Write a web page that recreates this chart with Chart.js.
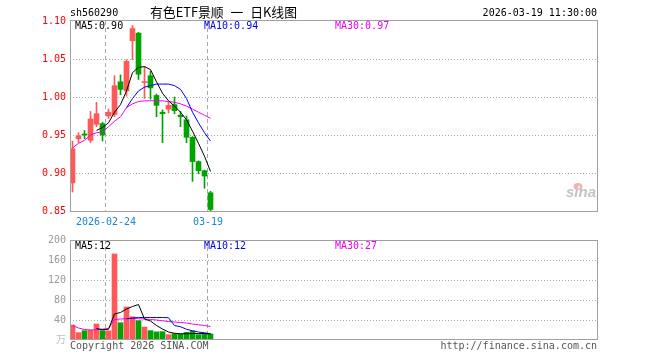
<!DOCTYPE html>
<html lang="zh-CN">
<head>
<meta charset="UTF-8">
<title>有色ETF景顺 日K线图</title>
<script src="https://cdn.jsdelivr.net/npm/chart.js@4"></script>
<style>
  html, body { margin: 0; padding: 0; background: #fff; }
  #wrap { position: relative; width: 660px; height: 360px; }
  #wrap canvas { position: absolute; left: 0; top: 0; }
</style>
</head>
<body>
<div id="wrap">
  <canvas id="kline" width="660" height="360"></canvas>
  <canvas id="vol" width="660" height="360"></canvas>
</div>
<script>
// daily bars, oldest first
const open  = [0.887,0.945,0.951,0.943,0.964,0.965,0.975,0.977,1.020,1.008,1.074,1.084,1.019,1.028,1.002,0.980,0.984,0.990,0.976,0.970,0.947,0.915,0.903,0.874];
const close = [0.932,0.949,0.950,0.971,0.978,0.950,0.980,1.015,1.010,1.047,1.090,1.030,1.020,1.012,0.989,0.978,0.989,0.982,0.974,0.947,0.915,0.903,0.896,0.852];
const high  = [0.942,0.953,0.956,0.981,0.993,0.967,0.984,1.028,1.029,1.049,1.094,1.085,1.040,1.034,1.004,0.983,0.993,1.000,0.981,0.975,0.948,0.916,0.904,0.876];
const low   = [0.875,0.940,0.945,0.940,0.961,0.942,0.972,0.974,1.003,1.001,1.049,1.023,0.998,0.997,0.974,0.940,0.979,0.978,0.961,0.940,0.889,0.899,0.880,0.850];

const ma5  = [null,null,null,null,0.956,0.960,0.966,0.980,0.990,1.008,1.032,1.039,1.040,1.036,1.020,1.005,0.995,0.988,0.980,0.970,0.955,0.939,0.922,0.902];
const ma10 = [null,null,null,null,null,null,null,null,null,0.986,0.998,1.008,1.013,1.015,1.017,1.017,1.017,1.015,1.010,0.998,0.980,0.966,0.953,0.942];
const ma30 = [0.933,0.939,0.943,0.950,0.953,0.954,0.961,0.968,0.974,0.986,0.991,0.994,0.995,0.995,0.995,0.995,0.994,0.993,0.991,0.988,0.984,0.980,0.976,0.972];

// volume, 万
const vol     = [30,14.7,18.7,19.5,32,18.7,18.5,172,34.5,66,46.5,38.7,26,18.7,16.3,16.7,10.7,12.7,12,15.3,18,10.7,13.3,12];
const volMa5  = [null,null,null,null,23,20.5,21.5,52,55,62,67,71,42,38,29,22,16,13.5,12.5,12.5,13,13,13,12.4];
const volMa10 = [null,null,null,null,null,null,null,null,null,42.5,44,45,45,45,45,45,44.5,29,26.5,21.5,18.5,16,14.5,12.4];
const volMa30 = [29,24,21,20,20.5,22,23,41,42,42.5,43,42.5,42,41,40,38.5,37,36,35,34,32,30.5,29,27];

const dateIdx    = [6, 23];
const dateLabels = ['2026-02-24', '03-19'];
const priceTicks = [0.85, 0.90, 0.95, 1.00, 1.05, 1.10];
const volTicks   = [0, 40, 80, 120, 160, 200];

const UP = '#ff5858', DOWN = '#00a300';
const MONO = "'DejaVu Sans Mono', 'Noto Sans CJK SC', monospace";
const X_MIN = -0.4167, X_MAX = 87.4167;   // 6px per day slot

const isUp = i => close[i] >= open[i];
const pts = arr => arr.map((v, i) => v == null ? null : { x: i, y: v }).filter(p => p);

function xAxis(withLabels) {
  return {
    type: 'linear', min: X_MIN, max: X_MAX, offset: false,
    afterBuildTicks: s => { s.ticks = dateIdx.map(i => ({ value: i - 0.42 })); },
    afterFit: s => { s.height = withLabels ? 20 : 0; },
    grid: { color: '#a8a8a8', lineWidth: 1, drawTicks: false, offset: false },
    border: { display: false, dash: [4, 3] },
    ticks: {
      display: withLabels, autoSkip: false, maxRotation: 0, padding: 5,
      color: '#1a88d0', font: { family: MONO, size: 10 },
      callback: (v, i) => dateLabels[i]
    }
  };
}

function yAxis(min, max, tickVals, color, fmt) {
  return {
    position: 'left', min, max,
    afterBuildTicks: s => { s.ticks = tickVals.map(v => ({ value: v })); },
    afterFit: s => { s.width = 70; },
    grid: {
      drawTicks: false, lineWidth: 1,
      color: c => (c.tick.value === min || c.tick.value === max) ? 'rgba(0,0,0,0)' : '#aaaaaa'
    },
    border: { display: false, dash: [1, 2] },
    ticks: { padding: 4, color, font: { family: MONO, size: 10 }, callback: fmt }
  };
}

function maLine(arr, color) {
  return { type: 'line', data: pts(arr), borderColor: color, borderWidth: 1,
           pointRadius: 0, tension: 0, fill: false };
}

function txt(ctx, s, x, y, color, align, font, wordGap) {
  ctx.save();
  ctx.font = font || ('10px ' + MONO);
  if (wordGap) ctx.wordSpacing = wordGap;
  ctx.fillStyle = color;
  ctx.textAlign = align || 'left';
  ctx.textBaseline = 'middle';
  ctx.fillText(s, x, y);
  ctx.restore();
}

const priceDeco = {
  id: 'priceDeco',
  afterDraw(chart) {
    const ctx = chart.ctx;
    ctx.save();
    ctx.strokeStyle = '#a0a0a0';
    ctx.lineWidth = 1;
    ctx.strokeRect(70.5, 20.5, 527, 191);
    ctx.restore();

    txt(ctx, 'sh560290', 70, 13, '#000');
    // title, fitted to the reference width
    ctx.save();
    const title = '有色ETF景顺 一 日K线图';
    ctx.font = "13px 'Noto Sans CJK SC'";
    ctx.wordSpacing = '4px';
    const w = ctx.measureText(title).width;
    const size = 13 * 147 / w;
    ctx.restore();
    txt(ctx, title, 150, 12, '#000', 'left', size.toFixed(2) + "px 'Noto Sans CJK SC'", '4px');
    txt(ctx, '2026-03-19 11:30:00', 597, 13, '#000', 'right');

    txt(ctx, 'MA5:' + ma5[ma5.length - 1].toFixed(2), 75, 26, '#000');
    txt(ctx, 'MA10:' + ma10[ma10.length - 1].toFixed(2), 204, 26, '#0000ee');
    txt(ctx, 'MA30:' + ma30[ma30.length - 1].toFixed(2), 335, 26, '#ee00ee');

    // sina watermark
    ctx.save();
    ctx.fillStyle = '#f2b0b0';
    ctx.beginPath();
    ctx.ellipse(578, 186.5, 4.5, 3.5, 0, 0, Math.PI * 2);
    ctx.fill();
    ctx.fillStyle = '#fff';
    ctx.beginPath();
    ctx.arc(578.5, 187, 1.5, 0, Math.PI * 2);
    ctx.fill();
    ctx.restore();
    txt(ctx, 'sina', 596, 193, '#c4c4c4', 'right', "italic bold 15px 'Liberation Sans'");
  }
};

const volDeco = {
  id: 'volDeco',
  afterDraw(chart) {
    const ctx = chart.ctx;
    ctx.save();
    ctx.strokeStyle = '#a0a0a0';
    ctx.lineWidth = 1;
    ctx.strokeRect(70.5, 240.5, 527, 99);
    ctx.restore();

    txt(ctx, 'MA5:' + Math.round(volMa5[volMa5.length - 1]), 75, 246, '#000');
    txt(ctx, 'MA10:' + Math.round(volMa10[volMa10.length - 1]), 204, 246, '#0000ee');
    txt(ctx, 'MA30:' + Math.round(volMa30[volMa30.length - 1]), 335, 246, '#ee00ee');

    txt(ctx, 'Copyright 2026 SINA.COM', 70, 346, '#555');
    txt(ctx, 'http://finance.sina.com.cn', 597, 346, '#555', 'right');
  }
};

const base = {
  responsive: false, animation: false,
  plugins: { legend: { display: false }, tooltip: { enabled: false } }
};

new Chart(document.getElementById('kline'), {
  type: 'bar',
  data: {
    datasets: [
      maLine(ma5, '#000000'),
      maLine(ma10, '#0000ee'),
      maLine(ma30, '#ee00ee'),
      {
        data: open.map((o, i) => ({ x: i, y: [o, close[i]] })),
        backgroundColor: open.map((o, i) => isUp(i) ? UP : DOWN),
        barThickness: 5, minBarLength: 1, grouped: false, borderWidth: 0
      },
      {
        data: low.map((l, i) => ({ x: i, y: [l, high[i]] })),
        backgroundColor: low.map((l, i) => isUp(i) ? UP : DOWN),
        barThickness: 1, grouped: false, borderWidth: 0
      }
    ]
  },
  options: {
    ...base,
    layout: { padding: { left: 0, right: 63, top: 21, bottom: 129 } },
    scales: {
      x: xAxis(true),
      y: yAxis(0.85, 1.10, priceTicks, '#ff0000', v => v.toFixed(2))
    }
  },
  plugins: [priceDeco]
});

const volY = yAxis(0, 200, volTicks, '#999999', v => v === 0 ? '万' : v);
volY.ticks.color = c => c.tick && c.tick.value === 0 ? '#c0c0c0' : '#999999';

new Chart(document.getElementById('vol'), {
  type: 'bar',
  data: {
    datasets: [
      maLine(volMa5, '#000000'),
      maLine(volMa10, '#0000ee'),
      maLine(volMa30, '#ee00ee'),
      {
        data: vol.map((v, i) => ({ x: i, y: v })),
        backgroundColor: vol.map((v, i) => isUp(i) ? UP : DOWN),
        barThickness: 5, grouped: false, borderWidth: 0
      }
    ]
  },
  options: {
    ...base,
    layout: { padding: { left: 0, right: 63, top: 240, bottom: 20 } },
    scales: {
      x: xAxis(false),
      y: volY
    }
  },
  plugins: [volDeco]
});
</script>
</body>
</html>
